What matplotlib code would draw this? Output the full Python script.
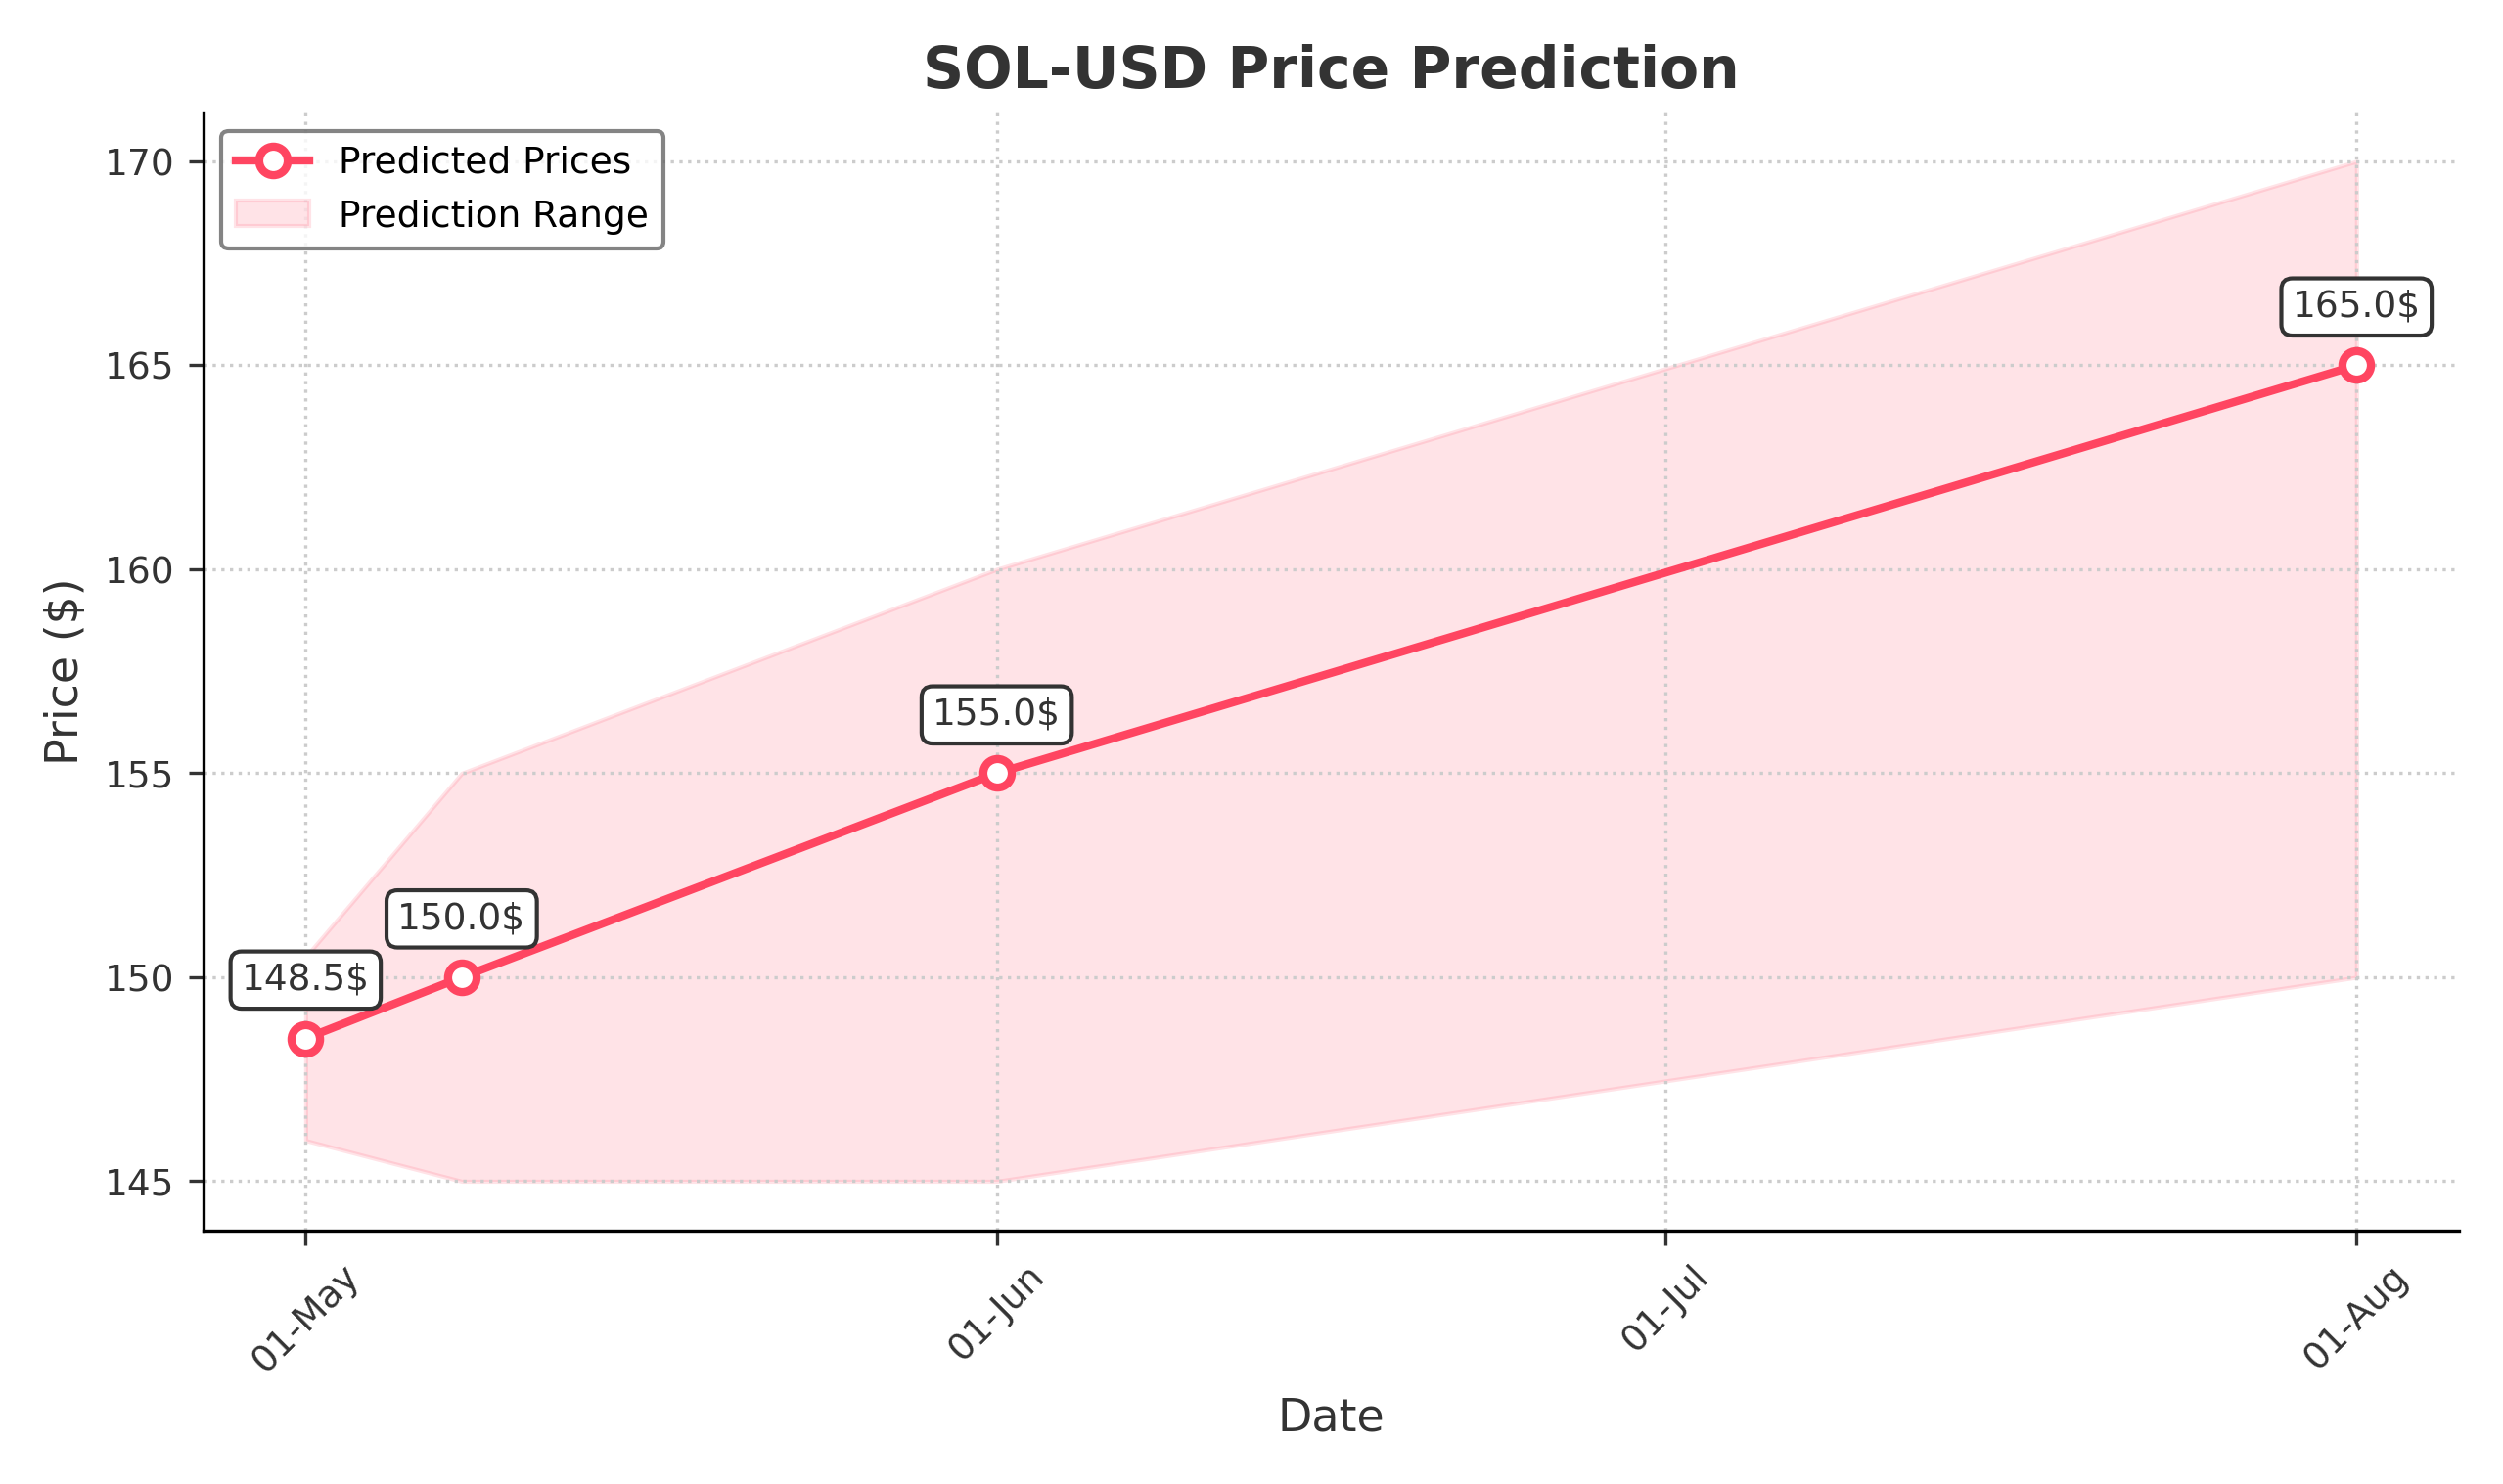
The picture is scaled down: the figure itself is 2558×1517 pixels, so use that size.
import pandas as pd
import matplotlib
matplotlib.use("Agg")
import matplotlib.pyplot as plt
import matplotlib.dates as mdates

dates = pd.to_datetime(["2025-05-01", "2025-05-08", "2025-06-01", "2025-08-01"])
predicted = [148.5, 150.0, 155.0, 165.0]
lower = [146.0, 145.0, 145.0, 150.0]
upper = [150.5, 155.0, 160.0, 170.0]

color = "#ff4561"
fig, ax = plt.subplots(figsize=(8.527, 5.057), dpi=300)
ax.fill_between(dates, lower, upper, color=color, alpha=0.15, label="Prediction Range")
ax.plot(dates, predicted, color=color, linewidth=2, marker="o", markersize=7,
        markerfacecolor="white", markeredgewidth=2, label="Predicted Prices")

for d, p in zip(dates, predicted):
    ax.annotate(f"{p}$", (d, p), xytext=(0, 10), textcoords="offset points",
                ha="center", va="bottom", fontsize=9, color="#333333",
                bbox=dict(boxstyle="round,pad=0.3", fc="white", ec="#333333", lw=1))

ax.set_title("SOL-USD Price Prediction", fontsize=14, fontweight="bold", color="#333333")
ax.set_xlabel("Date", fontsize=11, color="#333333")
ax.set_ylabel("Price ($)", fontsize=11, color="#333333")
ax.xaxis.set_major_locator(mdates.MonthLocator())
ax.xaxis.set_major_formatter(mdates.DateFormatter("%d-%b"))
plt.setp(ax.get_xticklabels(), rotation=45)
ax.tick_params(labelsize=9, colors="#333333")
ax.grid(True, linestyle=":", color="#cccccc", linewidth=0.8)
for s in ["top", "right"]:
    ax.spines[s].set_visible(False)
ax.set_yticks([145, 150, 155, 160, 165, 170])
ax.set_ylim(143.8, 171.2)
handles, labels = ax.get_legend_handles_labels()
ax.legend(handles[::-1], labels[::-1], loc="upper left", fontsize=9, edgecolor="#666666")
plt.tight_layout()
plt.savefig("out.png")
